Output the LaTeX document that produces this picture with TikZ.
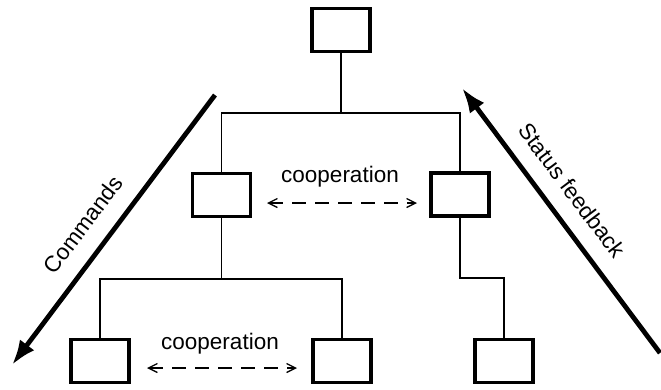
\documentclass[tikz,border=0pt]{standalone}
\usepackage{fontspec}
\setmainfont{Liberation Sans}
\usetikzlibrary{arrows.meta}
\begin{document}
\begin{tikzpicture}[x=1pt,y=-1pt,
  unit/.style={draw, line width=3.2pt, minimum width=58pt, minimum height=43pt, inner sep=0pt},
  link/.style={line width=1.4pt},
  coop/.style={line width=1.3pt, dash pattern=on 14pt off 9pt,
    {Straight Barb[length=9pt,width=9pt]}-{Straight Barb[length=9pt,width=9pt]}},
  flow/.style={line width=4.8pt, -{Latex[length=25pt,width=18pt]}},
  lab/.style={font=\fontsize{22.5}{26}\selectfont, inner sep=0pt}]
  \useasboundingbox (0,0) rectangle (661,389);

  % units of the hierarchy
  \node[unit] (top) at (341,30) {};
  \node[unit] (ml)  at (221.5,195) {};
  \node[unit] (mr)  at (460,194.5) {};
  \node[unit] (bl)  at (100,361) {};
  \node[unit] (bm)  at (342,361) {};
  \node[unit] (br)  at (504,361) {};

  % junction levels of the tree
  \coordinate (j1) at (341,113);
  \coordinate (j2) at (221.5,279);
  \coordinate (j3) at (460,278);

  % tree connections
  \draw[link] (top.south) -- (j1);
  \draw[link] (ml.north) -- (ml.north |- j1) -- (mr.north |- j1) -- (mr.north);
  \draw[link] (ml.south) -- (j2);
  \draw[link] (bl.north) -- (bl.north |- j2) -- (bm.north |- j2) -- (bm.north);
  \draw[link] (mr.south) -- (j3) -- (br.north |- j3) -- (br.north);

  % cooperation between peers
  \coordinate (ca) at (267,203);
  \coordinate (cb) at (417,203);
  \draw[coop] (ca) -- (cb);
  \node[lab] (coopU) at (340,177) {cooperation};

  \coordinate (cc) at (147,368);
  \coordinate (cd) at (297,368);
  \draw[coop] (cc) -- (cd);
  \node[lab] (coopL) at (220,344) {cooperation};

  % command and feedback flows
  \coordinate (cmdA) at (215,95);
  \coordinate (cmdB) at (12,365);
  \draw[flow] (cmdA) -- (cmdB);
  \node[lab, rotate=53] (cmd) at (83,225) {Commands};

  \coordinate (fbA) at (660,353);
  \coordinate (fbB) at (462,88);
  \draw[flow] (fbA) -- (fbB);
  \node[lab, rotate=-53] (fb) at (572,190) {Status feedback};
\end{tikzpicture}
\end{document}
